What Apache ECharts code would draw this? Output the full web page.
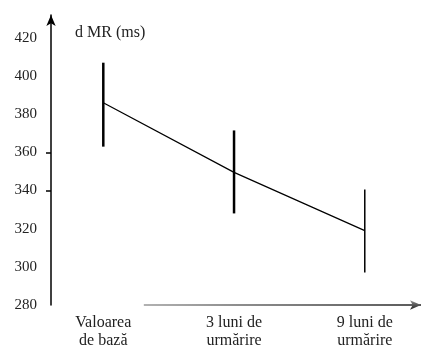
<!DOCTYPE html>
<html>
    <head>
        <meta charset="utf-8">
        <script src="https://cdn.jsdelivr.net/npm/echarts@6/dist/echarts.min.js"></script>
    </head>
    <body style="margin:0">
        <style>
            html, body, #main {
                width: 421px;
                height: 354px;
                background: #fff;
            }
        </style>
        <div id="main"></div>
        <script>
            var categories = ['Valoarea\nde bază', '3 luni de\nurmărire', '9 luni de\nurmărire'];
            var means = [386, 349.5, 319];
            var lows = [363, 328, 297];
            var highs = [407, 371.5, 340.5];
            var yTicks = [280, 300, 320, 340, 360, 380, 400, 420];
            var yTickMarks = [340, 360];

            var chart = echarts.init(document.getElementById('main'));
            var serif = 'Liberation Serif';

            var meanData = means.map(function (v, i) { return [i, v]; });
            var errData = lows.map(function (v, i) { return [i, v, highs[i]]; });
            // first two bars are drawn heavier than the last one
            var barWidths = [2.5, 2.5, 1.5];

            chart.setOption({
                animation: false,
                title: {
                    text: 'd MR (ms)',
                    left: 70,
                    top: 20,
                    textStyle: {
                        fontFamily: serif,
                        fontWeight: 'normal',
                        fontSize: 16,
                        color: '#222'
                    }
                },
                grid: {
                    left: 51,
                    right: 0,
                    top: 15,
                    bottom: 49
                },
                xAxis: {
                    type: 'value',
                    min: -0.4,
                    max: 2.43,
                    splitLine: { show: false },
                    axisLine: { show: false },
                    axisTick: { show: false },
                    axisLabel: {
                        customValues: [0, 1, 2],
                        formatter: function (v) {
                            return categories[Math.round(v)];
                        },
                        margin: 9,
                        fontFamily: serif,
                        fontSize: 16,
                        lineHeight: 18,
                        color: '#222'
                    }
                },
                yAxis: {
                    type: 'value',
                    min: 280,
                    max: 432,
                    splitLine: { show: false },
                    axisLine: {
                        show: true,
                        onZero: false,
                        symbol: ['none', 'arrow'],
                        symbolSize: [7, 11],
                        lineStyle: { color: '#000', width: 1.5 }
                    },
                    axisTick: {
                        show: true,
                        customValues: yTickMarks,
                        length: 5,
                        lineStyle: { color: '#000', width: 1.5 }
                    },
                    axisLabel: {
                        customValues: yTicks,
                        margin: 14,
                        fontFamily: serif,
                        fontSize: 15,
                        color: '#222'
                    }
                },
                series: [{
                    type: 'line',
                    data: meanData,
                    showSymbol: false,
                    lineStyle: { color: '#000', width: 1.2 },
                    markLine: {
                        silent: true,
                        symbol: ['none', 'arrow'],
                        symbolSize: [7, 11],
                        label: { show: false },
                        lineStyle: {
                            // the bottom axis fades from grey to black in the reference
                            color: new echarts.graphic.LinearGradient(0, 0, 1, 0, [
                                { offset: 0, color: '#999' },
                                { offset: 0.35, color: '#666' },
                                { offset: 1, color: '#222' }
                            ]),
                            width: 1.5,
                            type: 'solid'
                        },
                        data: [[{ coord: [0.31, 280] }, { coord: [2.43, 280] }]]
                    }
                }, {
                    type: 'custom',
                    data: errData,
                    renderItem: function (params, api) {
                        var top = api.coord([api.value(0), api.value(2)]);
                        var bottom = api.coord([api.value(0), api.value(1)]);
                        return {
                            type: 'line',
                            shape: { x1: top[0], y1: top[1], x2: bottom[0], y2: bottom[1] },
                            style: { stroke: '#000', lineWidth: barWidths[params.dataIndex] }
                        };
                    }
                }]
            });
        </script>
    </body>
</html>
